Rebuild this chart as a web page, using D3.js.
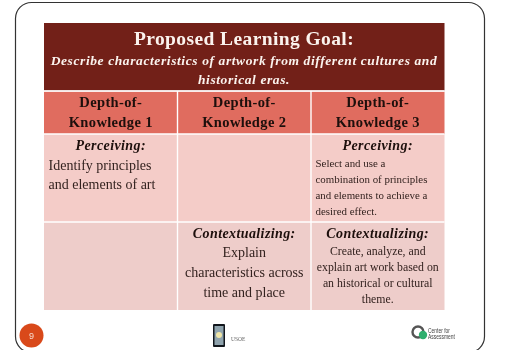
<!DOCTYPE html>
<html>
<head>
<meta charset="utf-8">
<script src="https://cdn.jsdelivr.net/npm/d3@7"></script>
<style>
  html, body { margin: 0; padding: 0; background: #fff; overflow: hidden; }
  svg { display: block; }
  text { font-family: "Liberation Serif", serif; filter: blur(0.25px); }
</style>
</head>
<body>
<script>
const title = 'Proposed Learning Goal:'
const subtitle = ['Describe characteristics of artwork from different cultures and', 'historical eras.']
const columns = ['Depth-of-|Knowledge 1', 'Depth-of-|Knowledge 2', 'Depth-of-|Knowledge 3']
const rows = ['perceiving', 'contextualizing']
const rowColors = ['#f4ccc8', '#eecdca']

// col, row, heading, lines, size, anchor
const cells = [
  { col: 0, row: 'perceiving', heading: 'Perceiving:', lines: ['Identify principles', 'and elements of art'], size: 14, gap: 19, first: 170, anchor: 'start' },
  { col: 2, row: 'perceiving', heading: 'Perceiving:', lines: ['Select and use a', 'combination of principles', 'and elements to achieve a', 'desired effect.'], size: 10.9, gap: 16, first: 167, anchor: 'start' },
  { col: 1, row: 'contextualizing', heading: 'Contextualizing:', lines: ['Explain', 'characteristics across', 'time and place'], size: 14, gap: 20, first: 257, anchor: 'middle' },
  { col: 2, row: 'contextualizing', heading: 'Contextualizing:', lines: ['Create, analyze, and', 'explain art work based on', 'an historical or cultural', 'theme.'], size: 11.8, gap: 16, first: 255, anchor: 'middle' },
]
const pageNumber = '9'
const footerLabel = 'USOE'
const logoLines = ['Center for', 'Assessment']

const width = 505, height = 350
const svg = d3.select('body').append('svg').attr('width', width).attr('height', height)

// slide outline, runs off the bottom of the window
svg.append('rect')
  .attr('x', 15.5).attr('y', 2.5)
  .attr('width', 469).attr('height', 350)
  .attr('rx', 16)
  .attr('fill', '#fff')
  .attr('stroke', '#333')
  .attr('stroke-width', 1.2)

const x = d3.scaleBand().domain(d3.range(columns.length)).range([44, 444.5])
const y = d3.scaleBand().domain(rows).range([134, 310])

// header
svg.append('rect').attr('x', 44).attr('y', 23).attr('width', 400.5).attr('height', 67.5).attr('fill', '#722018')
svg.append('text').text(title)
  .attr('x', 244).attr('y', 44.5)
  .attr('text-anchor', 'middle')
  .attr('fill', '#fbf3ee')
  .attr('font-weight', 'bold')
  .attr('font-size', 19.5)
  .attr('letter-spacing', 0.4)
svg.selectAll('.subtitle').data(subtitle).enter().append('text')
  .attr('class', 'subtitle')
  .text(d => d)
  .attr('x', 244)
  .attr('y', (d, i) => 64.5 + i * 19.5)
  .attr('text-anchor', 'middle')
  .attr('fill', '#fbf3ee')
  .attr('font-weight', 'bold')
  .attr('font-style', 'italic')
  .attr('font-size', 13.5)
  .attr('letter-spacing', 0.6)

// column headers
const head = svg.selectAll('.head').data(columns).enter().append('g').attr('class', 'head')
head.append('rect')
  .attr('x', (d, i) => x(i))
  .attr('y', 91.5)
  .attr('width', x.bandwidth())
  .attr('height', 42.5)
  .attr('fill', '#e06c5f')
head.each(function (d, i) {
  d3.select(this).selectAll('text').data(d.split('|')).enter().append('text')
    .text(t => t)
    .attr('x', x(i) + x.bandwidth() / 2)
    .attr('y', (t, j) => 107 + j * 20)
    .attr('text-anchor', 'middle')
    .attr('font-weight', 'bold')
    .attr('font-size', 14.5)
    .attr('letter-spacing', 0.35)
    .attr('fill', '#1d0f0c')
})

// body grid
rows.forEach(function (r, ri) {
  svg.selectAll('.cell' + ri).data(columns).enter().append('rect')
    .attr('x', (d, i) => x(i))
    .attr('y', y(r))
    .attr('width', x.bandwidth())
    .attr('height', y.bandwidth())
    .attr('fill', rowColors[ri])
})

// white separators
svg.selectAll('.vsep').data([1, 2]).enter().append('line')
  .attr('x1', d => x(d)).attr('x2', d => x(d))
  .attr('y1', 91).attr('y2', 310)
  .attr('stroke', '#fff').attr('stroke-width', 1.4)
svg.selectAll('.hsep').data([91, 134, 222]).enter().append('line')
  .attr('x1', 44).attr('x2', 444.5)
  .attr('y1', d => d).attr('y2', d => d)
  .attr('stroke', '#fff').attr('stroke-width', 1.4)

// cell text
cells.forEach(function (c) {
  const cx = x(c.col) + x.bandwidth() / 2
  const top = y(c.row)
  svg.append('text').text(c.heading)
    .attr('x', cx)
    .attr('y', top + 16)
    .attr('text-anchor', 'middle')
    .attr('font-weight', 'bold')
    .attr('font-style', 'italic')
    .attr('font-size', 14)
    .attr('letter-spacing', 0.4)
    .attr('fill', '#1d0f0c')
  svg.selectAll(null).data(c.lines).enter().append('text')
    .text(d => d)
    .attr('x', c.anchor === 'middle' ? cx : x(c.col) + 4.5)
    .attr('y', (d, i) => c.first + i * c.gap)
    .attr('text-anchor', c.anchor)
    .attr('font-size', c.size)
    .attr('fill', '#33221f')
})

// page number badge
svg.append('circle').attr('cx', 31.5).attr('cy', 335.5).attr('r', 12).attr('fill', '#d9491a')
svg.append('text').text(pageNumber)
  .attr('x', 31.5).attr('y', 339)
  .attr('text-anchor', 'middle')
  .attr('fill', '#f6dccf')
  .style('font-family', '"Liberation Sans", sans-serif')
  .attr('font-size', 9)

// USOE mark
svg.append('rect').attr('x', 213).attr('y', 324).attr('width', 12).attr('height', 23).attr('fill', '#11161c').attr('rx', 1)
svg.append('rect').attr('x', 214.5).attr('y', 326).attr('width', 9).attr('height', 19).attr('fill', '#8fa3ad')
svg.append('circle').attr('cx', 219).attr('cy', 335).attr('r', 3).attr('fill', '#f0e6a8')
svg.append('text').text(footerLabel)
  .attr('x', 231).attr('y', 341)
  .attr('font-size', 5.5)
  .attr('fill', '#666')

// Center for Assessment logo
svg.append('circle').attr('cx', 418).attr('cy', 332).attr('r', 5.5).attr('fill', 'none').attr('stroke', '#555').attr('stroke-width', 2.4)
svg.append('circle').attr('cx', 423).attr('cy', 335).attr('r', 4.2).attr('fill', '#2fae6e')
svg.selectAll('.logo').data(logoLines).enter().append('text')
  .attr('class', 'logo')
  .text(d => d)
  .attr('x', 428)
  .attr('y', (d, i) => 333 + i * 5.5)
  .style('font-family', '"Liberation Sans", sans-serif')
  .attr('font-size', 6.5)
  .attr('textLength', (d, i) => i ? 27 : 22)
  .attr('lengthAdjust', 'spacingAndGlyphs')
  .attr('fill', '#444')
</script>
</body>
</html>
